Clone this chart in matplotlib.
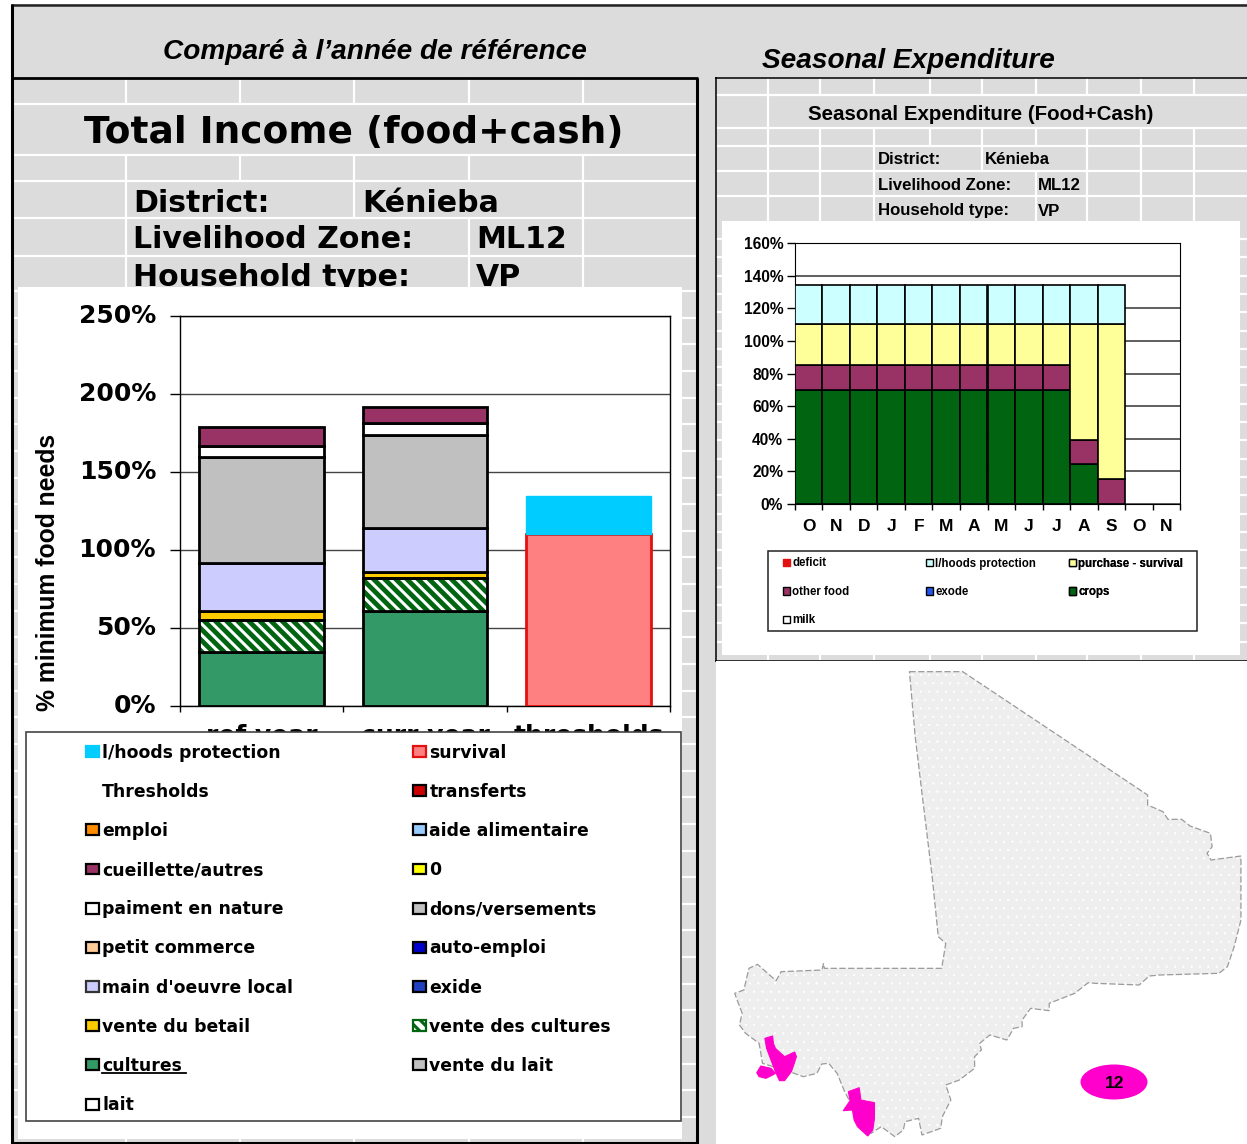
import matplotlib
matplotlib.use("Agg")
import matplotlib.pyplot as plt
from matplotlib.patches import Rectangle, Polygon, Ellipse, Patch
import numpy as np

W, H = 1247, 1144
GRAY = "#DCDCDC"
WIDE = "DejaVu Sans"
ARIAL = "Liberation Sans"

# ---- income chart data
income_cats = ["ref year", "curr year", "thresholds"]
cultures = [34.6, 61, 0]
vente_cultures = [20.4, 21, 0]
vente_betail = [5.7, 4, 0]
main_oeuvre = [31, 28.4, 0]
dons = [68, 59.5, 0]
paiement = [6.9, 7.5, 0]
cueillette = [12.2, 10.2, 0]
survival = [0, 0, 110]
lhoods_income = [0, 0, 24.9]
income_ticks = [0, 50, 100, 150, 200, 250]

income_legend = ["l/hoods protection", "Thresholds", "emploi", "cueillette/autres",
                 "paiment en nature", "petit commerce", "main d'oeuvre local",
                 "vente du betail", "cultures", "lait",
                 "survival", "transferts", "aide alimentaire", "0", "dons/versements",
                 "auto-emploi", "exide", "vente des cultures", "vente du lait"]
income_legend_face = ["#00CCFF", "none", "#FF8C00", "#993366", "white", "#FFCC99", "#CCCCFF",
                      "#FFCC00", "#339966", "white", "#FF8080", "#CC0000", "#99CCFF", "#FFFF00",
                      "#C0C0C0", "#0000CC", "#2040C0", "#006411", "#C0C0C0"]
income_legend_edge = ["#00CCFF", "none", "black", "black", "black", "black", "#333333",
                      "black", "black", "black", "#E31010", "black", "black", "black",
                      "black", "black", "black", "black", "black"]

# ---- expenditure chart data
months = ["O", "N", "D", "J", "F", "M", "A", "M", "J", "J", "A", "S", "O", "N"]
crops = [70, 70, 70, 70, 70, 70, 70, 70, 70, 70, 24.5, 0, 0, 0]
other_food = [15.3, 15.3, 15.3, 15.3, 15.3, 15.3, 15.3, 15.3, 15.3, 15.3, 15, 15.5, 0, 0]
purchase = [24.9, 24.9, 24.9, 24.9, 24.9, 24.9, 24.9, 24.9, 24.9, 24.9, 70.7, 94.7, 0, 0]
lhoods_exp = [24, 24, 24, 24, 24, 24, 24, 24, 24, 24, 24, 24, 0, 0]
exp_ticks = [0, 20, 40, 60, 80, 100, 120, 140, 160]
exp_legend_cols = [["deficit", "other food", "milk"], ["l/hoods protection", "exode"],
                   ["purchase - survival", "crops"]]
exp_legend_face = [["#E31010", "#993366", "white"], ["#CCFFFF", "#2255EE"], ["#FFFF99", "#006411"]]
exp_legend_edge = [["#E31010", "black", "black"], ["black", "black"], ["black", "black"]]
exp_legend_x = [783, 926, 1069]

# ---- map outline, in image pixels of a 3x view
mali_x = [573,730,1275,1275,1320,1335,1375,1400,1460,1465,1450,1462,1550,1550,1530,1510,1485,1310,1280,1250,1120,1100,1060,985,985,930,905,905,880,860,810,780,785,765,765,720,680,695,670,665,610,600,560,555,530,490,460,420,380,360,335,315,300,260,220,140,130,90,72,80,58,85,100,125,180,195,315,320,322,668,680,658,640,610,590]
mali_y = [35,35,405,435,455,478,478,498,520,560,580,600,588,780,860,920,940,945,948,975,970,968,1000,1030,1052,1045,1080,1100,1105,1140,1125,1150,1170,1190,1225,1260,1275,1320,1370,1405,1425,1375,1385,1410,1430,1400,1420,1370,1290,1240,1210,1212,1240,1250,1235,1210,1150,1120,1095,1060,1000,990,925,913,962,935,930,910,925,925,850,830,650,400,230]
zone_a_x = [147,170,172,178,205,235,240,232,225,205,190,178,165,152]
zone_a_y = [1135,1128,1150,1165,1190,1176,1190,1215,1235,1262,1262,1235,1200,1165]
zone_b_x = [123,135,165,178,170,150,130]
zone_b_y = [1238,1218,1225,1240,1245,1255,1250]
zone_c_x = [393,425,430,470,470,465,450,420,410,405,378,398]
zone_c_y = [1295,1283,1320,1328,1375,1410,1428,1400,1380,1350,1352,1322]


def map_xy(xs, ys):
    return np.column_stack([715 + np.array(xs) / 2.947, 660 + np.array(ys) / 3.0])


def px_axes(z):
    a = fig.add_axes([0, 0, 1, 1], zorder=z)
    a.set_xlim(0, W)
    a.set_ylim(H, 0)
    a.axis("off")
    a.patch.set_visible(False)
    return a


def box_axes(x0, y0, x1, y1, z):
    return fig.add_axes([x0 / W, 1 - y1 / H, (x1 - x0) / W, (y1 - y0) / H], zorder=z)


fig = plt.figure(figsize=(W / 100, H / 100), dpi=100, facecolor="white")
bg = px_axes(0)
top = px_axes(10)


def hline(a, y, x0, x1, c="white", lw=1.6):
    a.plot([x0, x1], [y, y], color=c, lw=lw, solid_capstyle="butt", zorder=2)


def vline(a, x, y0, y1, c="white", lw=1.6):
    a.plot([x, x], [y0, y1], color=c, lw=lw, solid_capstyle="butt", zorder=2)


# page background
bg.add_patch(Rectangle((11, 4), W - 11, H - 4, fc=GRAY, ec="none", zorder=1))
# left panel sheet lines
for y in [104, 155, 181, 218, 256]:
    hline(bg, y, 13, 696)
for y in np.linspace(291, 1117, 32):
    hline(bg, y, 13, 696)
for x in [126, 240, 354, 469, 583]:
    vline(bg, x, 79, 104)
    vline(bg, x, 155, 181)
for x in [126, 354, 583]:
    vline(bg, x, 181, 218)
for x in [126, 469, 583]:
    vline(bg, x, 218, 292)
for x in [126, 240, 354, 469, 583]:
    vline(bg, x, 1139, 1142)
# right panel sheet lines
for y in [95, 128, 146, 171, 196]:
    hline(bg, y, 716, W)
for y in np.arange(239, 656, 18.3):
    hline(bg, y, 716, W)
RV = [768, 820, 874, 930, 982, 1036, 1087, 1141, 1194]
for x in RV:
    vline(bg, x, 78, 95)
    vline(bg, x, 128, 146)
    vline(bg, x, 655, 660)
vline(bg, 768, 95, 128)
for x in [768, 820, 874, 982, 1087, 1141, 1194]:
    vline(bg, x, 146, 171)
for x in [768, 820, 874, 1036, 1087, 1141, 1194]:
    vline(bg, x, 171, 221)

# white areas
bg.add_patch(Rectangle((18, 287), 664, 852, fc="white", ec="none", zorder=4))
bg.add_patch(Rectangle((722, 221), 518, 434, fc="white", ec="none", zorder=4))
bg.add_patch(Rectangle((716, 661), W - 716, H - 661, fc="white", ec="none", zorder=4))

# frames
hline(bg, 4.5, 11, W, "#222222", 1.8)
vline(bg, 11.5, 4, H, "black", 2.2)
hline(bg, 78, 11, 698, "black", 2.0)
vline(bg, 697, 78, H, "black", 2.2)
hline(bg, 1143, 11, 698, "black", 2.2)
hline(bg, 77.5, 715, W, "black", 1.1)
vline(bg, 715.5, 77, 661, "black", 1.1)
hline(bg, 660.5, 715, W, "black", 1.1)

# headings
bg.text(375, 52, "Comparé à l’année de référence", ha="center", va="center", fontsize=20.2,
        family=ARIAL, weight="bold", style="italic", zorder=3)
bg.text(908, 61, "Seasonal Expenditure", ha="center", va="center", fontsize=20.2,
        family=ARIAL, weight="bold", style="italic", zorder=3)
bg.text(354, 133, "Total Income (food+cash)", ha="center", va="center", fontsize=27,
        family=WIDE, weight="bold", zorder=3)
for x, y, s in [(133, 203, "District:"), (362, 203, "Kénieba"), (133, 240, "Livelihood Zone:"),
                (476, 240, "ML12"), (133, 277, "Household type:"), (476, 277, "VP")]:
    bg.text(x, y, s, ha="left", va="center", fontsize=21.6, family=WIDE, weight="bold", zorder=3)
bg.text(981, 114.5, "Seasonal Expenditure (Food+Cash)", ha="center", va="center", fontsize=14.8,
        family=ARIAL, weight="bold", zorder=3)
for x, y, s in [(878, 160, "District:"), (985, 160, "Kénieba"), (878, 186, "Livelihood Zone:"),
                (1038, 186, "ML12"), (878, 211, "Household type:"), (1038, 211, "VP")]:
    bg.text(x, y, s, ha="left", va="center", fontsize=12.1, family=ARIAL, weight="bold", zorder=3)

# ---- income chart
ax = box_axes(180, 316, 670, 706, 5)
ax.set_xlim(-0.5, 2.5)
ax.set_ylim(0, 250)
ax.set_axisbelow(True)
ax.yaxis.grid(True, color="#444444", lw=1.0)
x = np.arange(3)
bw = 0.765
bottom = np.zeros(3)
plt.rcParams["hatch.linewidth"] = 2.2
for vals, fc in [(cultures, "#339966"), (vente_cultures, "#006411"), (vente_betail, "#FFCC00"),
                 (main_oeuvre, "#CCCCFF"), (dons, "#C0C0C0"), (paiement, "white"),
                 (cueillette, "#993366")]:
    v = np.array(vals, float)
    if vals is vente_cultures:
        ax.bar(x[:2], v[:2], bw, bottom[:2], color=fc, edgecolor="white", hatch="\\\\\\", lw=0, zorder=3)
        ax.bar(x[:2], v[:2], bw, bottom[:2], facecolor="none", edgecolor="black", lw=2.0, zorder=3.2)
    else:
        ax.bar(x[:2], v[:2], bw, bottom[:2], color=fc, edgecolor="black", lw=2.0, zorder=3)
    bottom += v
ax.bar(x[2], survival[2], bw, color="#FF8080", edgecolor="#E31010", lw=2.0, zorder=3)
ax.bar(x[2], lhoods_income[2], bw, bottom=survival[2], color="#00CCFF", edgecolor="#00CCFF", lw=1, zorder=3)
ax.set_yticks(income_ticks)
ax.set_yticklabels([f"{v}%" for v in income_ticks], fontsize=18, family=WIDE, weight="bold", va="center")
ax.tick_params(axis="y", length=7.2, width=1, pad=10)
ax.set_xticks([-0.5, 0.5, 1.5, 2.5])
ax.set_xticklabels([])
ax.tick_params(axis="x", length=4, width=1)
ax.set_xticks(x, minor=True)
ax.set_xticklabels(income_cats, minor=True, fontsize=18, family=WIDE, weight="bold")
ax.tick_params(axis="x", which="minor", length=0, pad=13)
ax.set_ylabel("% minimum food needs", fontsize=17.8, family=ARIAL, weight="bold")
ax.yaxis.set_label_coords((60 - 180) / 490, (706 - 572) / 390)
for s in ax.spines.values():
    s.set_linewidth(1.0)

# legend of income chart
top.add_patch(Rectangle((26, 732), 655, 389, fc="white", ec="#444444", lw=1.2, zorder=1))
handles = []
for f, e, lab in zip(income_legend_face, income_legend_edge, income_legend):
    h = Patch(facecolor=f, edgecolor=e, lw=1.6, label=lab)
    if lab == "vente des cultures":
        h = Patch(facecolor="white", edgecolor="#006411", hatch="\\\\\\", lw=1.6, label=lab)
    handles.append(h)
LFS = 12.4
leg = top.legend(handles=handles, ncol=2, loc="upper left", bbox_to_anchor=(86, 743.5),
                 bbox_transform=top.transData, frameon=False, borderpad=0, borderaxespad=0,
                 prop={"family": WIDE, "weight": "bold", "size": LFS}, labelspacing=1.23,
                 handlelength=0.75, handleheight=0.6, handletextpad=0.2, columnspacing=6.95)
top.add_artist(leg)
top.plot([102, 186], [1073, 1073], color="black", lw=1.3, zorder=3)

# ---- expenditure chart
ax2 = box_axes(795, 243, 1180, 504, 5)
n = len(months)
ax2.set_xlim(-0.5, n - 0.5)
ax2.set_ylim(0, 160)
ax2.set_axisbelow(True)
ax2.yaxis.grid(True, color="#333333", lw=1.1)
mx = np.arange(n)
bot = np.zeros(n)
for vals, fc in [(crops, "#006411"), (other_food, "#993366"), (purchase, "#FFFF99"), (lhoods_exp, "#CCFFFF")]:
    v = np.array(vals, float)
    ax2.bar(mx, v, 1.0, bot, color=fc, edgecolor="black", lw=np.where(v > 0, 1.2, 0), zorder=3)
    bot += v
ax2.set_yticks(exp_ticks)
ax2.set_yticklabels([f"{v}%" for v in exp_ticks], fontsize=11.2, family=ARIAL, weight="bold")
ax2.tick_params(axis="y", length=5.5, width=1, pad=3)
ax2.set_xticks(np.arange(-0.5, n, 1.0))
ax2.set_xticklabels([])
ax2.tick_params(axis="x", length=4, width=1)
ax2.set_xticks(mx, minor=True)
ax2.set_xticklabels(months, minor=True, fontsize=12.5, family=ARIAL, weight="bold")
ax2.tick_params(axis="x", which="minor", length=0, pad=10.5)

top.add_patch(Rectangle((768, 551), 429, 80, fc="white", ec="#222222", lw=1.1, zorder=1))
for cx, labs, faces, edges in zip(exp_legend_x, exp_legend_cols, exp_legend_face, exp_legend_edge):
    hs = [Patch(facecolor=f, edgecolor=e, lw=1.0, label=l) for f, e, l in zip(faces, edges, labs)]
    lg = top.legend(handles=hs, ncol=1, loc="upper left", bbox_to_anchor=(cx, 557.5),
                    bbox_transform=top.transData, frameon=False, borderpad=0, borderaxespad=0,
                    prop={"family": ARIAL, "weight": "bold", "size": 8.3}, labelspacing=1.43,
                    handlelength=0.6, handleheight=0.6, handletextpad=0.2)
    top.add_artist(lg)

# ---- map
plt.rcParams["hatch.linewidth"] = 0.4
outline = map_xy(mali_x, mali_y)
bg.add_patch(Polygon(outline, closed=True, fc="#EEEEEE", ec="white", hatch="..", lw=0, zorder=5))
bg.add_patch(Polygon(outline, closed=True, fc="none", ec="#9A9A9A", lw=0.9, ls=(0, (5, 2)), zorder=6))
for xs, ys in [(zone_a_x, zone_a_y), (zone_b_x, zone_b_y), (zone_c_x, zone_c_y)]:
    bg.add_patch(Polygon(map_xy(xs, ys), closed=True, fc="#FF00CC", ec="#FF00CC", lw=0.8, zorder=7))
bg.add_patch(Ellipse((1114, 1082), 67, 35, fc="#FF00CC", ec="none", zorder=7))
bg.text(1114.5, 1083, "12", ha="center", va="center", fontsize=12.5, family=ARIAL, weight="bold", zorder=8)

fig.savefig("out.png", dpi=100)
